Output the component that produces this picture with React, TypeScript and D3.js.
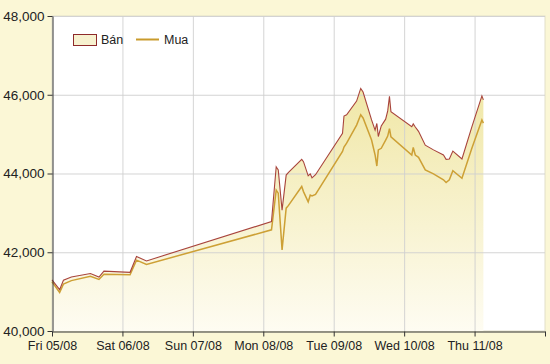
import React, { useEffect, useRef } from "react";
import * as d3 from "d3";

// hours after Fri 05/08 00:00
const hours = [
  0, 2.6, 3.9, 6.6, 13.1, 16.0, 17.7, 26.6, 28.8, 32.2, 74.8, 76.4, 77.1, 78.4,
  79.8, 80.6, 85.1, 85.7, 87.3, 88.0, 88.6, 89.8, 99.0, 99.5, 100.4, 103.8,
  105.2, 106.0, 108.9, 110.1, 110.7, 111.2, 112.2, 113.7, 114.4, 115.0, 115.5,
  122.6, 123.1, 123.8, 124.9, 127.2, 130.0, 133.4, 134.3, 135.4, 136.6, 139.7,
  143.1, 146.5, 147.0,
];
const ban = [
  41300, 41050, 41290, 41370, 41460, 41370, 41520, 41490, 41890, 41780, 42780,
  44170, 44090, 43070, 43960, 44030, 44360, 44300, 43940, 43990, 43890, 43970,
  45020, 45460, 45490, 45840, 46160, 46070, 45360, 45100, 45270, 44940, 45210,
  45380, 45590, 45960, 45570, 45190, 45260, 45180, 45070, 44720, 44600, 44470,
  44360, 44370, 44570, 44370, 45190, 45970, 45870,
];
const mua = [
  41250, 40980, 41190, 41280, 41390, 41310, 41440, 41430, 41800, 41690, 42570,
  43580, 43500, 42060, 43120, 43190, 43670, 43540, 43280, 43450, 43430, 43470,
  44560, 44670, 44770, 45230, 45490, 45410, 44850, 44470, 44190, 44600, 44640,
  44850, 44950, 45140, 44930, 44470, 44660, 44470, 44410, 44090, 43990, 43840,
  43770, 43840, 44070, 43880, 44650, 45360, 45280,
];
const dayLabels = ["Fri 05/08", "Sat 06/08", "Sun 07/08", "Mon 08/08", "Tue 09/08", "Wed 10/08", "Thu 11/08"];
const yTicks = [40000, 42000, 44000, 46000, 48000];
const seriesNames = ["Bán", "Mua"];

const W = 550;
const H = 364;
const left = 52;
const right = 545;
const top = 16;
const bottom = 331;

export default function App() {
  const ref = useRef<SVGSVGElement>(null);

  useEffect(() => {
    const svg = d3.select(ref.current);
    svg.selectAll("*").remove();

    const start = Date.UTC(2011, 7, 5);
    const hr = 3600 * 1000;
    const rows = hours.map((h, i) => ({ t: new Date(start + h * hr), ban: ban[i], mua: mua[i] }));

    const x = d3.scaleUtc().domain([new Date(start), new Date(start + 7 * 24 * hr)]).range([left, right]);
    const y = d3.scaleLinear().domain([40000, 48000]).range([bottom, top]);

    svg.append("rect").attr("width", W).attr("height", H).attr("fill", "#FBF7D6");
    svg.append("rect")
      .attr("x", left).attr("y", top)
      .attr("width", right - left).attr("height", bottom - top)
      .attr("fill", "#fff").attr("stroke", "#E2DFC8");

    const grad = svg.append("defs").append("linearGradient")
      .attr("id", "fillGrad").attr("x1", 0).attr("x2", 0)
      .attr("gradientUnits", "userSpaceOnUse")
      .attr("y1", y(46200)).attr("y2", bottom);
    grad.append("stop").attr("offset", 0).attr("stop-color", "#F0E7A6");
    grad.append("stop").attr("offset", 1).attr("stop-color", "#FEFCF2");

    const days = d3.range(8).map((d) => new Date(start + d * 24 * hr));

    const area = d3.area<any>().x((d) => x(d.t)).y0(bottom).y1((d) => y(d.ban));
    svg.append("path").datum(rows).attr("d", area).attr("fill", "url(#fillGrad)");

    // grid (shows through the fill)
    svg.append("g").selectAll("line").data(days.slice(1, 7)).join("line")
      .attr("x1", (d) => x(d) + 0.5).attr("x2", (d) => x(d) + 0.5)
      .attr("y1", top).attr("y2", bottom)
      .attr("stroke", "#CFCFCF").attr("stroke-opacity", 0.9);
    svg.append("g").selectAll("line").data(yTicks.slice(1)).join("line")
      .attr("x1", left).attr("x2", right)
      .attr("y1", (d) => y(d) + 0.5).attr("y2", (d) => y(d) + 0.5)
      .attr("stroke", "#CFCFCF").attr("stroke-opacity", 0.9);

    const lineBan = d3.line<any>().x((d) => x(d.t)).y((d) => y(d.ban));
    const lineMua = d3.line<any>().x((d) => x(d.t)).y((d) => y(d.mua));
    svg.append("path").datum(rows).attr("d", lineMua).attr("fill", "none").attr("stroke", "#CDA035").attr("stroke-width", 1.5);
    svg.append("path").datum(rows).attr("d", lineBan).attr("fill", "none").attr("stroke", "#A8443C").attr("stroke-width", 1.1);

    // axes
    const yAxis = svg.append("g").attr("transform", `translate(${left + 0.5},0)`)
      .call(d3.axisLeft(y).tickValues(yTicks).tickFormat(d3.format(",")).tickSize(5).tickSizeOuter(0));
    yAxis.select(".domain").attr("stroke", "#333");
    yAxis.selectAll(".tick line").attr("stroke", "#333");
    yAxis.selectAll("text")
      .attr("font-family", "'Liberation Sans', Arial, sans-serif").attr("font-size", 13.5)
      .attr("fill", "#222").attr("x", -8);

    const xAxis = svg.append("g").attr("transform", `translate(0,${bottom + 0.5})`)
      .call(d3.axisBottom(x).tickValues(days).tickFormat((d, i) => dayLabels[i] ?? "").tickSize(5).tickSizeOuter(0));
    xAxis.select(".domain").attr("stroke", "#333");
    xAxis.selectAll(".tick line").attr("stroke", "#333");
    xAxis.selectAll("text")
      .attr("font-family", "'Liberation Sans', Arial, sans-serif").attr("font-size", 12.5)
      .attr("fill", "#222").attr("y", 10);

    // legend
    const lg = svg.append("g").attr("font-family", "'Liberation Sans', Arial, sans-serif").attr("font-size", 12.5).attr("fill", "#222");
    lg.append("rect").attr("x", 73.5).attr("y", 34.5).attr("width", 23).attr("height", 11)
      .attr("fill", "#F7F1CF").attr("stroke", "#8E2A2A").attr("stroke-width", 1);
    lg.append("text").attr("x", 101).attr("y", 40).attr("dy", "0.35em").text(seriesNames[0]);
    lg.append("line").attr("x1", 136).attr("x2", 159).attr("y1", 39.5).attr("y2", 39.5)
      .attr("stroke", "#C99B2C").attr("stroke-width", 2);
    lg.append("text").attr("x", 164).attr("y", 40).attr("dy", "0.35em").text(seriesNames[1]);
  }, []);

  return (
    <svg
      ref={ref}
      width={W}
      height={H}
      style={{ position: "absolute", left: 0, top: 0, display: "block" }}
    />
  );
}
